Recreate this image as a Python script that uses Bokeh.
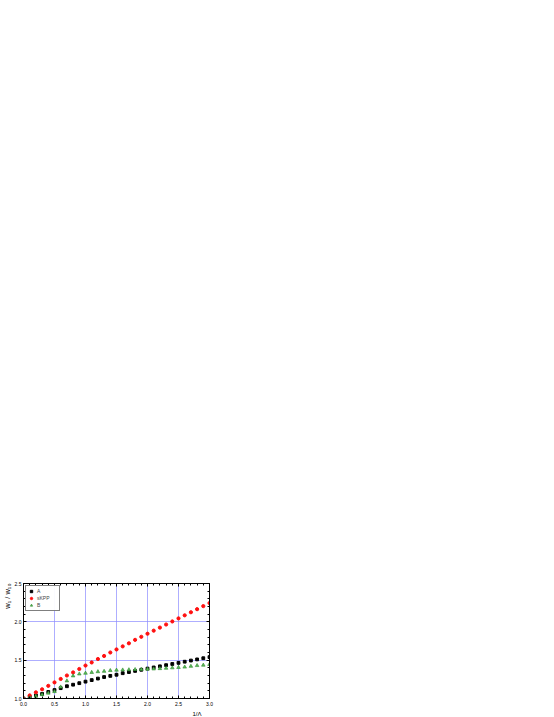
from bokeh.plotting import figure
from bokeh.models import LinearAxis, FixedTicker, Range1d, Title, Legend, LegendItem, NumeralTickFormatter
from bokeh.embed import file_html
from bokeh.resources import INLINE

x_vals = [0.0, 0.1, 0.2, 0.3, 0.4, 0.5, 0.6, 0.7, 0.8, 0.9, 1.0,
          1.1, 1.2, 1.3, 1.4, 1.5, 1.6, 1.7, 1.8, 1.9, 2.0,
          2.1, 2.2, 2.3, 2.4, 2.5, 2.6, 2.7, 2.8, 2.9, 3.0]
a_vals = [1.0, 1.02, 1.04, 1.06, 1.085, 1.11, 1.135, 1.16, 1.18, 1.20, 1.22,
          1.24, 1.26, 1.28, 1.295, 1.31, 1.33, 1.345, 1.36, 1.375, 1.39,
          1.405, 1.42, 1.435, 1.45, 1.465, 1.48, 1.495, 1.51, 1.525, 1.54]
skpp_vals = [1.0, 1.04, 1.08, 1.12, 1.165, 1.21, 1.255, 1.30, 1.34, 1.385, 1.43,
             1.47, 1.515, 1.555, 1.60, 1.64, 1.68, 1.72, 1.765, 1.805, 1.845,
             1.885, 1.925, 1.965, 2.005, 2.045, 2.085, 2.125, 2.165, 2.205, 2.245]
b_vals = [1.0, 1.01, 1.03, 1.05, 1.07, 1.09, 1.15, 1.23, 1.295, 1.32, 1.33,
          1.34, 1.35, 1.355, 1.365, 1.37, 1.372, 1.375, 1.378, 1.38, 1.383,
          1.386, 1.39, 1.395, 1.40, 1.405, 1.41, 1.42, 1.43, 1.435, 1.445]

x_major = [0.0, 0.5, 1.0, 1.5, 2.0, 2.5, 3.0]
x_minor = [0.1, 0.2, 0.3, 0.4, 0.6, 0.7, 0.8, 0.9, 1.1, 1.2, 1.3, 1.4, 1.6, 1.7, 1.8, 1.9,
           2.1, 2.2, 2.3, 2.4, 2.6, 2.7, 2.8, 2.9]
y_major = [1.0, 1.5, 2.0, 2.5]
y_minor = [1.1, 1.2, 1.3, 1.4, 1.6, 1.7, 1.8, 1.9, 2.1, 2.2, 2.3, 2.4]

p = figure(width=223, height=716, x_range=Range1d(0, 3), y_range=Range1d(1.0, 2.5),
           output_backend="svg", toolbar_location=None,
           min_border_left=22, min_border_right=14, min_border_top=583, min_border_bottom=17)
p.outline_line_color = "black"
p.outline_line_width = 1

def style_axis(ax, show_labels=True):
    ax.axis_line_color = "black"
    ax.major_tick_in = 3
    ax.major_tick_out = 0
    ax.minor_tick_in = 2
    ax.minor_tick_out = 0
    ax.major_tick_line_color = "black"
    ax.minor_tick_line_color = "black"
    ax.major_label_text_font_size = "5px"
    ax.major_label_text_color = "black"
    ax.major_label_standoff = 3
    ax.formatter = NumeralTickFormatter(format="0.0")
    if not show_labels:
        ax.major_label_text_alpha = 0

p.xaxis.ticker = FixedTicker(ticks=x_major, minor_ticks=x_minor)
p.yaxis.ticker = FixedTicker(ticks=y_major, minor_ticks=y_minor)
style_axis(p.xaxis[0])
style_axis(p.yaxis[0])
p.yaxis[0].major_label_standoff = 2

top = LinearAxis(ticker=FixedTicker(ticks=x_major, minor_ticks=x_minor))
style_axis(top, False)
p.add_layout(top, "above")
right = LinearAxis(ticker=FixedTicker(ticks=y_major, minor_ticks=y_minor))
style_axis(right, False)
p.add_layout(right, "right")

for g in (p.xgrid[0], p.ygrid[0]):
    g.grid_line_color = "#8c8cff"
    g.grid_line_alpha = 0.7
    g.grid_line_width = 1

r_a = p.scatter(x_vals, a_vals, marker="square", size=2.8, fill_color="black", line_color="black")
r_s = p.scatter(x_vals, skpp_vals, marker="circle", size=3.2, fill_color="#ff1010", line_color="#ff1010")
r_b = p.scatter(x_vals, b_vals, marker="triangle", size=3.6, fill_color="#5cb85c", line_color="#2e8b2e", line_width=0.6)

legend = Legend(items=[LegendItem(label="A", renderers=[r_a]),
                       LegendItem(label="sKPP", renderers=[r_s]),
                       LegendItem(label="B", renderers=[r_b])],
                location="top_left", label_text_font_size="5px", glyph_height=6, glyph_width=6,
                label_height=6, spacing=1, padding=2, margin=2, label_standoff=3,
                border_line_color="black", border_line_width=1, background_fill_color="white")
p.add_layout(legend)

p.add_layout(Title(text="w₁ / w₁₀", align="right", text_font_size="7.5px", text_font_style="normal",
                   text_color="black", standoff=0, offset=0), "left")
p.add_layout(Title(text="1/Λ", align="right", text_font_size="6px", text_font_style="normal",
                   text_color="black", standoff=0, offset=8), "below")

open("out.html", "w").write(file_html(p, INLINE))
